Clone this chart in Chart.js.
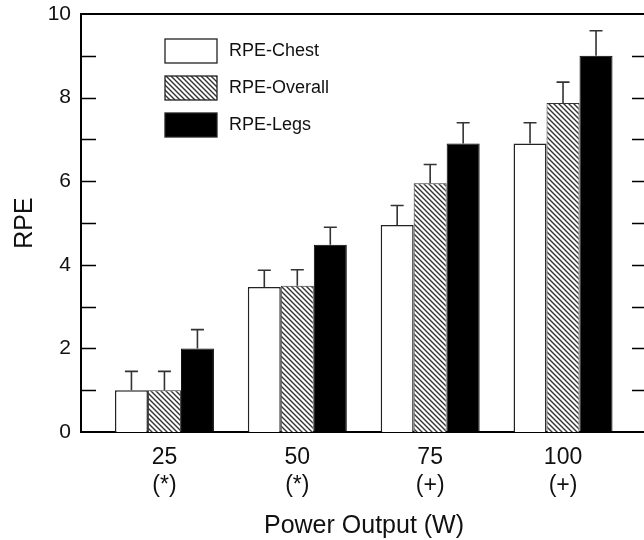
<!DOCTYPE html>
<html>
<head>
<meta charset="utf-8">
<script src="https://cdn.jsdelivr.net/npm/chart.js@4.4.1/dist/chart.umd.min.js"></script>
<style>
  html, body { margin: 0; padding: 0; background: #fff; overflow: hidden; }
  canvas { display: block; }
</style>
</head>
<body>
<canvas id="myChart" width="660" height="540"></canvas>
<script>
// power output levels (W) and significance marks under them
const powerLevels = [25, 50, 75, 100];
const sigMarks = ['(*)', '(*)', '(+)', '(+)'];

// mean RPE and SD (only the upper bar drawn)
const chestMean = [1.0, 3.47, 4.95, 6.9];
const chestErr = [0.45, 0.4, 0.47, 0.5];
const overallMean = [1.0, 3.5, 5.95, 7.87];
const overallErr = [0.45, 0.38, 0.45, 0.5];
const legsMean = [2.0, 4.48, 6.9, 9.0];
const legsErr = [0.45, 0.42, 0.5, 0.6];

const yTicks = [0, 2, 4, 6, 8, 10];

// diagonal hatch for the "overall" bars
function makeHatch() {
    const c = document.createElement('canvas');
    c.width = 5; c.height = 5;
    const g = c.getContext('2d');
    g.fillStyle = '#fff';
    g.fillRect(0, 0, 5, 5);
    g.strokeStyle = '#333';
    g.lineWidth = 1.4;
    g.beginPath();
    g.moveTo(-1, -1); g.lineTo(6, 6);
    g.moveTo(-1, 4); g.lineTo(1, 6);
    g.moveTo(4, -1); g.lineTo(6, 1);
    g.stroke();
    return g.createPattern(c, 'repeat');
}
const hatch = makeHatch();

function pts(vals) {
    return powerLevels.map((p, i) => ({ x: p, y: vals[i] }));
}

const data = {
    datasets: [{
        label: 'RPE-Chest',
        data: pts(chestMean),
        errs: chestErr,
        backgroundColor: '#ffffff',
        borderColor: '#222',
        borderWidth: 1.5
    }, {
        label: 'RPE-Overall',
        data: pts(overallMean),
        errs: overallErr,
        backgroundColor: hatch,
        borderColor: '#333',
        borderWidth: 1
    }, {
        label: 'RPE-Legs',
        data: pts(legsMean),
        errs: legsErr,
        backgroundColor: '#000',
        borderColor: '#000',
        borderWidth: 1
    }]
};

// upward error bars with caps
const errorBars = {
    id: 'errorBars',
    afterDatasetsDraw(chart) {
        const ctx = chart.ctx;
        const ys = chart.scales.y;
        ctx.save();
        ctx.strokeStyle = '#333';
        ctx.lineWidth = 1.6;
        chart.data.datasets.forEach((ds, di) => {
            const meta = chart.getDatasetMeta(di);
            meta.data.forEach((bar, i) => {
                const top = ys.getPixelForValue(ds.data[i].y + ds.errs[i]);
                ctx.beginPath();
                ctx.moveTo(bar.x, bar.y);
                ctx.lineTo(bar.x, top);
                ctx.moveTo(bar.x - 6.5, top);
                ctx.lineTo(bar.x + 6.5, top);
                ctx.stroke();
            });
        });
        ctx.restore();
    }
};

// frame: top/right border and inward ticks on both sides
const frame = {
    id: 'frame',
    afterDraw(chart) {
        const ctx = chart.ctx;
        const a = chart.chartArea;
        const ys = chart.scales.y;
        ctx.save();
        ctx.strokeStyle = '#000';
        ctx.lineWidth = 2;
        ctx.beginPath();
        ctx.moveTo(a.left, a.top);
        ctx.lineTo(a.right, a.top);
        ctx.lineTo(a.right, a.bottom);
        ctx.stroke();
        ctx.lineWidth = 1.5;
        for (let v = 1; v < 10; v++) {
            const y = Math.round(ys.getPixelForValue(v)) + 0.5;
            ctx.beginPath();
            ctx.moveTo(a.left, y); ctx.lineTo(a.left + 15, y);
            ctx.moveTo(a.right, y); ctx.lineTo(a.right - 15, y);
            ctx.stroke();
        }
        ctx.restore();
    }
};

// legend inside the plot, upper left
const boxLegend = {
    id: 'boxLegend',
    afterDraw(chart) {
        const ctx = chart.ctx;
        ctx.save();
        ctx.font = '18px "Liberation Sans", Arial, sans-serif';
        ctx.textBaseline = 'middle';
        chart.data.datasets.forEach((ds, i) => {
            const x = 165;
            const y = 39 + i * 37;
            ctx.fillStyle = ds.backgroundColor;
            ctx.fillRect(x, y, 52, 24);
            ctx.strokeStyle = '#222';
            ctx.lineWidth = 1.3;
            ctx.strokeRect(x, y, 52, 24);
            ctx.fillStyle = '#111';
            ctx.fillText(ds.label, x + 64, y + 12);
        });
        ctx.restore();
    }
};

const config = {
    type: 'bar',
    data,
    options: {
        responsive: false,
        animation: false,
        events: [],
        layout: { padding: { left: 0, top: 14, right: 13, bottom: 0 } },
        categoryPercentage: 0.745,
        barPercentage: 1.0,
        plugins: {
            legend: { display: false },
            tooltip: { enabled: false }
        },
        scales: {
            x: {
                type: 'linear',
                offset: false,
                min: 9.3,
                max: 115.8,
                afterBuildTicks: (s) => { s.ticks = powerLevels.map(v => ({ value: v })); },
                afterFit: (s) => { s.height = 108; },
                grid: { display: false, drawTicks: false },
                border: { display: true, color: '#000', width: 2 },
                ticks: {
                    padding: 12,
                    color: '#111',
                    font: { family: '"Liberation Sans", Arial, sans-serif', size: 23 },
                    callback: (v, i) => [String(v), sigMarks[i]]
                },
                title: {
                    display: true,
                    text: 'Power Output (W)',
                    color: '#111',
                    font: { family: '"Liberation Sans", Arial, sans-serif', size: 25, lineHeight: 1.0 },
                    padding: { top: 0, bottom: 1 }
                }
            },
            y: {
                min: 0,
                max: 10,
                afterBuildTicks: (s) => { s.ticks = yTicks.map(v => ({ value: v })); },
                afterFit: (s) => { s.width = 81; s.paddingTop = 0; s.paddingBottom = 0; },
                grid: { display: false, drawTicks: false },
                border: { display: true, color: '#000', width: 2 },
                ticks: {
                    padding: 10,
                    color: '#111',
                    font: { family: '"Liberation Sans", Arial, sans-serif', size: 21 }
                },
                title: {
                    display: true,
                    text: 'RPE',
                    color: '#111',
                    font: { family: '"Liberation Sans", Arial, sans-serif', size: 25 },
                    padding: { top: 10, bottom: 0 }
                }
            }
        }
    },
    plugins: [errorBars, frame, boxLegend]
};

var myChart = new Chart(document.getElementById('myChart'), config);
</script>
</body>
</html>
